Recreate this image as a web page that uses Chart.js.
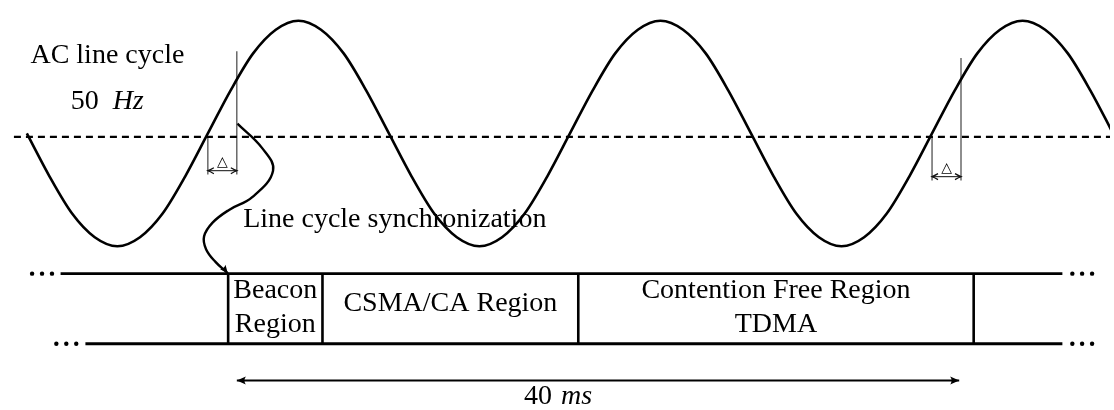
<!DOCTYPE html>
<html>
<head>
<meta charset="utf-8">
<script src="https://cdn.jsdelivr.net/npm/chart.js@4.4.1/dist/chart.umd.min.js"></script>
<style>
  html, body { margin: 0; padding: 0; background: #fff; }
  #wrap { position: relative; width: 1114px; height: 410px; }
</style>
</head>
<body>
<div id="wrap"><canvas id="diagram"></canvas></div>
<script>
// AC line cycle, 50 Hz (20 ms period)
// time in ms, level normalised to the peak
const waveTimeMs = [0, 1.25, 2.5, 3.75, 5, 6.25, 7.5, 8.75, 10, 11.25, 12.5, 13.75, 15, 16.25, 17.5, 18.75,
                    20, 21.25, 22.5, 23.75, 25, 26.25, 27.5, 28.75, 30, 31.25, 32.5, 33.75, 35, 36.25, 37.5, 38.75,
                    40, 41.25, 42.5, 43.75, 45, 46.25, 47.5, 48.75, 50, 51.25, 52.5, 53.75, 55, 56.25, 57.5, 58.75,
                    60];
const waveLevel = [0, -0.38, -0.71, -0.92, -1, -0.92, -0.71, -0.38, 0, 0.38, 0.71, 0.92, 1, 0.92, 0.71, 0.38,
                   0, -0.38, -0.71, -0.92, -1, -0.92, -0.71, -0.38, 0, 0.38, 0.71, 0.92, 1, 0.92, 0.71, 0.38,
                   0, -0.38, -0.71, -0.92, -1, -0.92, -0.71, -0.38, 0, 0.38, 0.71, 0.92, 1, 0.92, 0.71, 0.38,
                   0];
const zeroLevel = -0.03;

// zero crossings that get a delta marker, and the delta after each (ms)
const crossingMs = [10, 50];
const deltaMs = [1.6, 1.6];

// "line cycle synchronization" path, from the delta marker to the beacon start
const syncTimeMs = [11.63, 13.0, 13.6, 12.45, 11.17, 10.26, 9.79, 9.9, 10.42, 11.1];
const syncLevel = [0.087, -0.13, -0.33, -0.565, -0.678, -0.791, -0.913, -1.026, -1.139, -1.24];

// frame timeline: region edges (ms) and their names
const frameEdgesMs = [11.12, 16.33, 30.46, 52.3];
const frameLabels = [['Beacon', 'Region'], ['CSMA/CA Region'], ['Contention Free Region', 'TDMA']];
const periodSpanMs = [11.6, 51.5];

// ---- layout (axis ranges, rows, text places) ----
const X_RANGE = [-1.261, 59.83];
const Y_RANGE = [-2.417, 1.148];
const ROW_TOP = -1.2435;
const ROW_BOTTOM = -1.865;
const ROW_TOP_SPAN = [1.865, 57.2];
const ROW_BOTTOM_SPAN = [3.236, 57.2];
const DOTS_TOP = [0.29, 0.84, 1.39, 57.75, 58.29, 58.84];
const DOTS_BOTTOM = [1.63, 2.18, 2.73, 57.75, 58.29, 58.84];
const SPAN_ROW = -2.191;
const DASH_START = -0.713;
// per marker: top of the long line, arrow level, bottom of ticks, delta baseline
const markerLayout = [
  { top: 0.73, arrow: -0.33, bottom: -0.365, label: -0.285 },
  { top: 0.67, arrow: -0.383, bottom: -0.417, label: -0.345 }
];

const SERIF = '"Liberation Serif", "Times New Roman", serif';
const FONT_SIZE = 28;
const INK = '#000';

function seg(x0, y0, x1, y1, width, color, dash) {
  return {
    data: [{ x: x0, y: y0 }, { x: x1, y: y1 }],
    borderColor: color || INK,
    borderWidth: width,
    borderDash: dash || [],
    pointRadius: 0,
    tension: 0
  };
}

const datasets = [];

// wave
datasets.push({
  data: waveTimeMs.map((t, i) => ({ x: t, y: waveLevel[i] })),
  borderColor: INK,
  borderWidth: 2.6,
  pointRadius: 0,
  cubicInterpolationMode: 'monotone'
});

// dashed zero line
datasets.push(seg(DASH_START, zeroLevel, 60, zeroLevel, 2.4, INK, [7, 5]));

// delta markers (thin lines)
crossingMs.forEach((c, i) => {
  const m = markerLayout[i];
  datasets.push(seg(c, zeroLevel, c, m.bottom, 1.1, '#333'));
  datasets.push(seg(c + deltaMs[i], m.top, c + deltaMs[i], m.bottom, 1.1, '#333'));
  datasets.push(seg(c, m.arrow, c + deltaMs[i], m.arrow, 1.1, '#222'));
});

// sync path
datasets.push({
  data: syncTimeMs.map((t, i) => ({ x: t, y: syncLevel[i] })),
  borderColor: INK,
  borderWidth: 2.4,
  pointRadius: 0,
  tension: 0.4
});

// frame rows and region edges
datasets.push(seg(ROW_TOP_SPAN[0], ROW_TOP, ROW_TOP_SPAN[1], ROW_TOP, 2.8));
datasets.push(seg(ROW_BOTTOM_SPAN[0], ROW_BOTTOM, ROW_BOTTOM_SPAN[1], ROW_BOTTOM, 2.8));
frameEdgesMs.forEach(e => datasets.push(seg(e, ROW_TOP, e, ROW_BOTTOM, 2.6)));

// continuation dots
datasets.push({
  data: DOTS_TOP.map(t => ({ x: t, y: ROW_TOP })).concat(DOTS_BOTTOM.map(t => ({ x: t, y: ROW_BOTTOM }))),
  showLine: false,
  pointRadius: 2.2,
  pointBorderWidth: 0,
  pointBackgroundColor: INK
});

// 40 ms span
datasets.push(seg(periodSpanMs[0], SPAN_ROW, periodSpanMs[1], SPAN_ROW, 2.2));

function arrowHead(ctx, x, y, ang, len, half, filled) {
  ctx.save();
  ctx.translate(x, y);
  ctx.rotate(ang);
  ctx.beginPath();
  if (filled) {
    ctx.moveTo(0, 0);
    ctx.lineTo(-len, -half);
    ctx.quadraticCurveTo(-len * 0.7, 0, -len, half);
    ctx.closePath();
    ctx.fill();
  } else {
    ctx.moveTo(-len, -half);
    ctx.quadraticCurveTo(-len * 0.35, -half * 0.25, 0, 0);
    ctx.quadraticCurveTo(-len * 0.35, half * 0.25, -len, half);
    ctx.stroke();
  }
  ctx.restore();
}

function drawMixed(ctx, parts, cx, y, gap) {
  // parts: [[text, italic], ...] centred on cx
  const widths = parts.map(p => {
    ctx.font = (p[1] ? 'italic ' : '') + FONT_SIZE + 'px ' + SERIF;
    return ctx.measureText(p[0]).width;
  });
  const total = widths.reduce((a, b) => a + b, 0) + gap * (parts.length - 1);
  let xx = cx - total / 2;
  ctx.textAlign = 'left';
  parts.forEach((p, i) => {
    ctx.font = (p[1] ? 'italic ' : '') + FONT_SIZE + 'px ' + SERIF;
    ctx.fillText(p[0], xx, y);
    xx += widths[i] + gap;
  });
}

const diagramPlugin = {
  id: 'diagram',
  afterDatasetsDraw(chart) {
    const ctx = chart.ctx;
    const xs = chart.scales.x, ys = chart.scales.y;
    const px = t => xs.getPixelForValue(t);
    const py = v => ys.getPixelForValue(v);

    ctx.save();
    ctx.fillStyle = INK;
    ctx.strokeStyle = INK;
    ctx.textBaseline = 'alphabetic';

    // delta arrows and labels
    crossingMs.forEach((c, i) => {
      const m = markerLayout[i];
      ctx.strokeStyle = '#111';
      ctx.lineWidth = 1.2;
      arrowHead(ctx, px(c), py(m.arrow), Math.PI, 6, 3, false);
      arrowHead(ctx, px(c + deltaMs[i]), py(m.arrow), 0, 6, 3, false);
      ctx.font = '14px "DejaVu Sans", sans-serif';
      ctx.textAlign = 'center';
      ctx.fillText('\u25B3', px(c + deltaMs[i] / 2), py(m.label));
    });

    // sync arrow head
    const n = syncTimeMs.length;
    const ex = px(syncTimeMs[n - 1]), ey = py(syncLevel[n - 1]);
    const bx = px(syncTimeMs[n - 2]), by = py(syncLevel[n - 2]);
    arrowHead(ctx, ex, ey, Math.atan2(ey - by, ex - bx) + 0.15, 8, 3.5, true);

    // 40 ms span heads
    arrowHead(ctx, px(periodSpanMs[0]), py(SPAN_ROW), Math.PI, 9, 4, true);
    arrowHead(ctx, px(periodSpanMs[1]), py(SPAN_ROW), 0, 9, 4, true);

    // texts
    ctx.font = FONT_SIZE + 'px ' + SERIF;
    ctx.textAlign = 'center';
    ctx.fillText('AC line cycle', px(4.45), py(0.626));
    drawMixed(ctx, [['50', false], ['Hz', true]], px(4.44), py(0.217), 14);

    ctx.font = FONT_SIZE + 'px ' + SERIF;
    ctx.textAlign = 'left';
    ctx.fillText('Line cycle synchronization', px(11.95), py(-0.826));

    ctx.textAlign = 'center';
    frameLabels.forEach((lines, i) => {
      const cx = px((frameEdgesMs[i] + frameEdgesMs[i + 1]) / 2);
      if (lines.length === 1) {
        ctx.fillText(lines[0], cx, py(-1.574));
      } else {
        ctx.fillText(lines[0], cx, py(-1.461));
        ctx.fillText(lines[1], cx, py(-1.765));
      }
    });

    drawMixed(ctx, [['40', false], ['ms', true]], px(29.34), py(-2.40), 9);
    ctx.restore();
  }
};

new Chart(document.getElementById('diagram'), {
  type: 'line',
  data: { datasets: datasets },
  options: {
    responsive: true,
    maintainAspectRatio: false,
    animation: false,
    layout: { padding: 0 },
    plugins: { legend: { display: false }, tooltip: { enabled: false } },
    scales: {
      x: { type: 'linear', min: X_RANGE[0], max: X_RANGE[1], display: false },
      y: { type: 'linear', min: Y_RANGE[0], max: Y_RANGE[1], display: false }
    }
  },
  plugins: [diagramPlugin]
});
</script>
</body>
</html>
